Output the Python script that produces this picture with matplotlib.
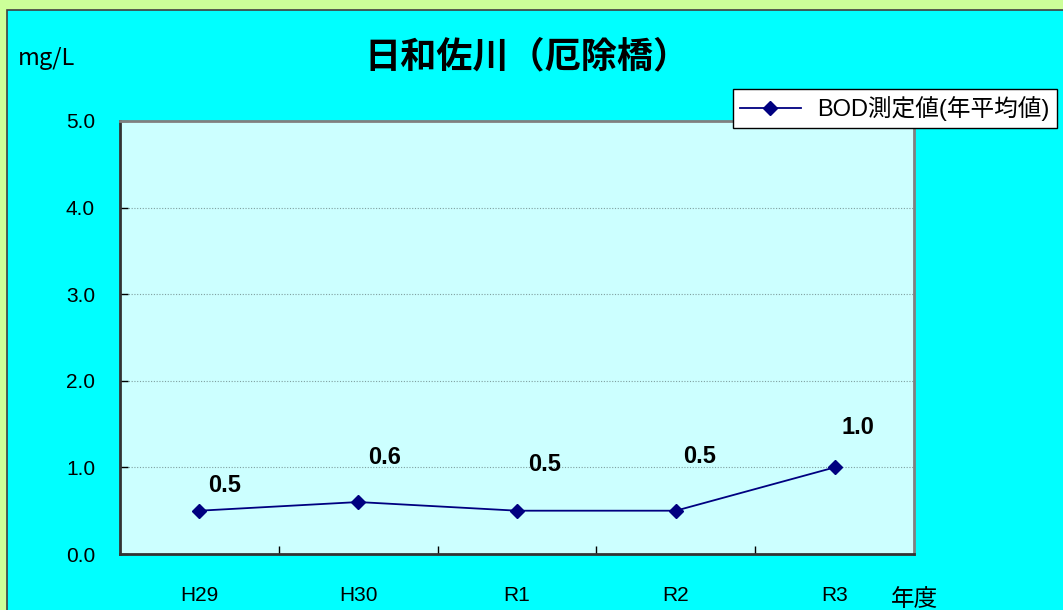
import matplotlib.pyplot as plt
from matplotlib.patches import Rectangle

plt.rcParams['font.family'] = ['Liberation Sans', 'Noto Sans CJK JP']

# BOD annual averages
years = ['H29', 'H30', 'R1', 'R2', 'R3']
bod = [0.5, 0.6, 0.5, 0.5, 1.0]
y_ticks = [0.0, 1.0, 2.0, 3.0, 4.0, 5.0]
label_offsets = [(18, 18), (19, 32), (20, 33), (17, 39), (17, 29)]

fig = plt.figure(figsize=(10.63, 6.10), dpi=100)
fig.patch.set_facecolor('#ccff99')

# cyan chart area with dark frame
fig.patches.append(Rectangle((7 / 1063, -0.1), 1.2, 1 - 9.5 / 610 + 0.1,
                             transform=fig.transFigure, facecolor='#00ffff',
                             edgecolor='#404040', linewidth=1.2, zorder=-1))

ax = fig.add_axes([120 / 1063, 1 - 554 / 610, 794 / 1063, 433 / 610])
ax.set_facecolor('#ccffff')

x = list(range(len(years)))
ax.plot(x, bod, color='#000080', linewidth=1.3, marker='D', markersize=7,
        label='BOD測定値(年平均値)', zorder=3)

for xi, v, off in zip(x, bod, label_offsets):
    ax.annotate('%.1f' % v, (xi, v), xytext=off, textcoords='offset points',
                ha='center', va='center', fontsize=17, fontweight='bold')

ax.set_xlim(-0.5, 4.5)
ax.set_ylim(0, 5)
ax.set_yticks(y_ticks)
ax.set_yticklabels(['%.1f' % t for t in y_ticks], fontsize=15)
ax.tick_params(axis='y', direction='in', length=6, width=1, pad=18)
ax.set_xticks(x)
ax.set_xticklabels(years, fontsize=15)
ax.set_xticks([0.5, 1.5, 2.5, 3.5], minor=True)
ax.tick_params(axis='x', which='major', length=0, pad=23)
ax.tick_params(axis='x', which='minor', direction='in', length=6, width=1)

ax.grid(axis='y', color='#7f9f9f', linestyle=(0, (1, 1.5)), linewidth=0.8)

for side in ['left', 'bottom']:
    ax.spines[side].set_color('#333333')
    ax.spines[side].set_linewidth(2)
for side in ['top', 'right']:
    ax.spines[side].set_color('#808080')
    ax.spines[side].set_linewidth(2)

fig.text(527 / 1063, 1 - 57 / 610, '日和佐川（厄除橋）', ha='center', va='center',
         fontsize=26, fontweight='bold', family=['Noto Sans CJK JP'])
fig.text(47 / 1063, 1 - 59 / 610, 'mg/L', ha='center', va='center', fontsize=17,
         family=['Noto Sans CJK JP'])
fig.text(915 / 1063, 1 - 600 / 610, '年度', ha='center', va='center', fontsize=17,
         family=['Noto Sans CJK JP'])

leg = ax.legend(loc='upper right', bbox_to_anchor=(1057 / 1063, 1 - 89 / 610),
                bbox_transform=fig.transFigure, fontsize=17, fancybox=False,
                framealpha=1, edgecolor='black', handlelength=2.6,
                handletextpad=0.7, borderpad=0.3, borderaxespad=0)
leg.get_frame().set_linewidth(1)

fig.savefig('out.png', dpi=100, facecolor=fig.get_facecolor())
